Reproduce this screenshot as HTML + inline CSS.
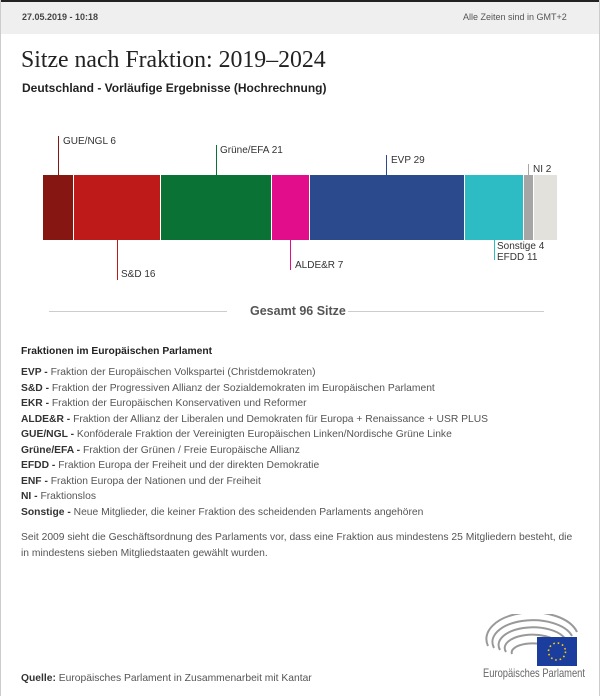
<!DOCTYPE html>
<html><head><meta charset="utf-8"><style>
*{margin:0;padding:0;box-sizing:border-box}
body{width:600px;height:696px;background:#fff;font-family:"Liberation Sans",sans-serif;position:relative;overflow:hidden;color:#333}
.a{position:absolute;white-space:nowrap}
.top{position:absolute;left:0;top:0;width:600px;height:34px;background:#efefef;border-top:2px solid #222}
.frame{position:absolute;left:0;top:0;width:600px;height:696px;border-left:1px solid #ccc;border-right:1px solid #ccc}
.seg{position:absolute;top:175px;height:65px}
.ln{position:absolute;width:1px}
.lab{position:absolute;font-size:10px;color:#333;white-space:nowrap}
.list div{height:15.5px;font-size:10.3px;color:#555}
.list b{color:#333}
</style></head><body>
<div class="top"></div>
<div class="a" style="left:22px;top:12px;font-size:9px;font-weight:bold;color:#444">27.05.2019 - 10:18</div>
<div class="a" style="left:463px;top:12px;font-size:9px;color:#555">Alle Zeiten sind in GMT+2</div>
<div class="a" style="left:21px;top:47px;font-family:'Liberation Serif',serif;font-size:23.8px;color:#222">Sitze nach Fraktion: 2019–2024</div>
<div class="a" style="left:22px;top:81px;font-size:12px;font-weight:bold;color:#222">Deutschland - Vorläufige Ergebnisse (Hochrechnung)</div>

<div class="seg" style="left:43px;width:30px;background:#861612"></div>
<div class="seg" style="left:74px;width:86px;background:#be1a1a"></div>
<div class="seg" style="left:161px;width:110px;background:#0b7236"></div>
<div class="seg" style="left:272px;width:37px;background:#e10d8a"></div>
<div class="seg" style="left:310px;width:154px;background:#2b4a8e"></div>
<div class="seg" style="left:465px;width:58px;background:#2dbcc4"></div>
<div class="seg" style="left:524px;width:9px;background:#a6a6a6"></div>
<div class="seg" style="left:534px;width:23px;background:#e3e1dc"></div>

<div class="ln" style="left:58px;top:136px;height:39px;background:#861612"></div>
<div class="lab" style="left:63px;top:136px">GUE/NGL 6</div>
<div class="ln" style="left:117px;top:240px;height:40px;background:#be1a1a"></div>
<div class="lab" style="left:121px;top:269px">S&amp;D 16</div>
<div class="ln" style="left:216px;top:145px;height:30px;background:#0b7236"></div>
<div class="lab" style="left:220px;top:145px">Grüne/EFA 21</div>
<div class="ln" style="left:290px;top:240px;height:30px;background:#e10d8a"></div>
<div class="lab" style="left:295px;top:260px">ALDE&amp;R 7</div>
<div class="ln" style="left:386px;top:155px;height:20px;background:#2b4a8e"></div>
<div class="lab" style="left:391px;top:155px">EVP 29</div>
<div class="ln" style="left:494px;top:240px;height:20px;background:#2dbcc4"></div>
<div class="lab" style="left:497px;top:241px;line-height:11px">Sonstige 4<br>EFDD 11</div>
<div class="ln" style="left:528px;top:164px;height:11px;background:#a6a6a6"></div>
<div class="lab" style="left:533px;top:164px">NI 2</div>

<div class="a" style="left:49px;top:311px;width:178px;height:1px;background:#ccc"></div>
<div class="a" style="left:348px;top:311px;width:196px;height:1px;background:#ccc"></div>
<div class="a" style="left:250px;top:304px;font-size:12.5px;font-weight:bold;color:#555">Gesamt 96 Sitze</div>

<div class="a" style="left:21px;top:346px;font-size:10.3px;font-weight:bold;color:#222">Fraktionen im Europäischen Parlament</div>
<div class="a list" style="left:21px;top:367px">
<div><b>EVP -</b> Fraktion der Europäischen Volkspartei (Christdemokraten)</div>
<div><b>S&amp;D -</b> Fraktion der Progressiven Allianz der Sozialdemokraten im Europäischen Parlament</div>
<div><b>EKR -</b> Fraktion der Europäischen Konservativen und Reformer</div>
<div><b>ALDE&amp;R -</b> Fraktion der Allianz der Liberalen und Demokraten für Europa + Renaissance + USR PLUS</div>
<div><b>GUE/NGL -</b> Konföderale Fraktion der Vereinigten Europäischen Linken/Nordische Grüne Linke</div>
<div><b>Grüne/EFA -</b> Fraktion der Grünen / Freie Europäische Allianz</div>
<div><b>EFDD -</b> Fraktion Europa der Freiheit und der direkten Demokratie</div>
<div><b>ENF -</b> Fraktion Europa der Nationen und der Freiheit</div>
<div><b>NI -</b> Fraktionslos</div>
<div><b>Sonstige -</b> Neue Mitglieder, die keiner Fraktion des scheidenden Parlaments angehören</div>
</div>
<div class="a" style="left:21px;top:530px;font-size:10.3px;color:#555;line-height:15.5px">Seit 2009 sieht die Geschäftsordnung des Parlaments vor, dass eine Fraktion aus mindestens 25 Mitgliedern besteht, die<br>in mindestens sieben Mitgliedstaaten gewählt wurden.</div>

<svg class="a" style="left:485px;top:614px" width="95" height="54" viewBox="0 0 95 54">
<g fill="none" stroke="#999" stroke-width="2">
<path d="M3 32 A45 26 0 0 1 92 18"/>
<path d="M9 34 A39 21 0 0 1 87 22"/>
<path d="M15 36 A33 17 0 0 1 81 26"/>
<path d="M21 38 A27 13 0 0 1 74 30"/>
<path d="M27 40 A21 9 0 0 1 66 34"/>
</g>
<rect x="52" y="23" width="40" height="29" fill="#1a3d9e"/>
<circle cx="72" cy="37.5" r="8.5" fill="none" stroke="#fc0" stroke-width="1.6" stroke-dasharray="1.6 2.9"/>
</svg>
<div class="a" style="left:483px;top:666px;font-size:12px;color:#666;transform:scaleX(0.78);transform-origin:0 0">Europäisches Parlament</div>
<div class="a" style="left:21px;top:673px;font-size:10.3px;color:#555"><b style="color:#333">Quelle:</b> Europäisches Parlament in Zusammenarbeit mit Kantar</div>
<div class="frame"></div>
</body></html>
